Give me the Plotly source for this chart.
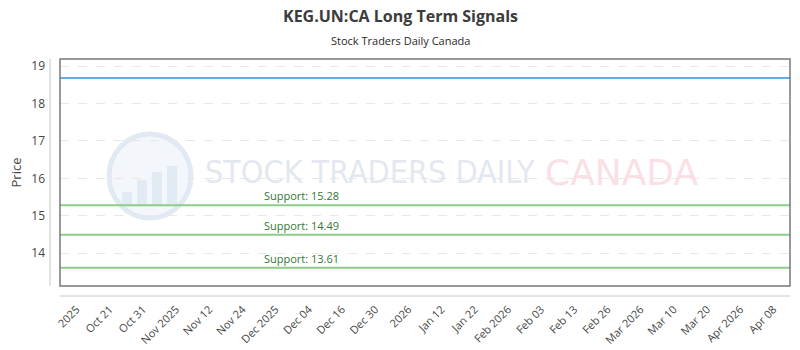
import plotly.graph_objects as go

# ---- data ----
x_labels = ["2025", "Oct 21", "Oct 31", "Nov 2025", "Nov 12", "Nov 24", "Dec 2025",
            "Dec 04", "Dec 16", "Dec 30", "2026", "Jan 12", "Jan 22", "Feb 2026",
            "Feb 03", "Feb 13", "Feb 26", "Mar 2026", "Mar 10", "Mar 20",
            "Apr 2026", "Apr 08"]
price_level = 18.68
support_levels = [15.28, 14.49, 13.61]
y_ticks = [14, 15, 16, 17, 18, 19]

PX_L, PX_R, PX_T, PX_B = 60, 790, 59, 286
W, H = PX_R - PX_L, PX_B - PX_T


def px(xp):
    return (xp - PX_L) / W


def py(yp):
    return (PX_B - yp) / H


fig = go.Figure()

# invisible trace to establish the x axis
fig.add_trace(go.Scatter(x=list(range(len(x_labels))), y=[price_level] * len(x_labels),
                         mode="lines", line=dict(color="rgba(0,0,0,0)"), hoverinfo="skip",
                         showlegend=False))

fig.add_hline(y=price_level, line=dict(color="rgb(95,175,235)", width=2))
for s in support_levels:
    fig.add_hline(y=s, line=dict(color="rgb(140,205,140)", width=2))
    fig.add_annotation(x=px(301), xref="paper", y=s, yref="y", text=f"Support: {s:.2f}",
                       showarrow=False, xanchor="center", yanchor="bottom", yshift=0,
                       font=dict(family="Open Sans", size=11, color="rgb(50,120,50)"))

# watermark
fig.add_shape(type="circle", xref="paper", yref="paper",
              x0=px(109), x1=px(191), y0=py(218), y1=py(134),
              line=dict(color="rgba(215,225,238,0.7)", width=5),
              fillcolor="rgba(232,239,247,0.5)", layer="below")
for x0, x1, ytop in [(122, 132, 192), (137, 147, 180), (152, 162, 172), (167, 177, 166)]:
    fig.add_shape(type="rect", xref="paper", yref="paper",
                  x0=px(x0), x1=px(x1), y0=py(205), y1=py(ytop),
                  line=dict(width=0), fillcolor="rgba(215,225,238,0.6)", layer="below")
fig.add_annotation(x=px(203), xref="paper", y=py(172), yref="paper",
                   text="STOCK TRADERS DAILY", showarrow=False, xanchor="left",
                   font=dict(family="DejaVu Sans Condensed", size=32, color="rgba(222,228,238,0.85)"))
fig.add_annotation(x=px(543), xref="paper", y=py(172), yref="paper",
                   text="CANADA", showarrow=False, xanchor="left",
                   font=dict(family="DejaVu Sans", size=36, color="rgba(250,218,223,0.85)"))

# frame and offset axis lines
fig.add_shape(type="rect", xref="paper", yref="paper", x0=0, x1=1, y0=0, y1=1,
              line=dict(color="rgb(120,120,120)", width=1.5))
fig.add_shape(type="line", xref="paper", yref="paper", x0=px(50), x1=px(50), y0=0, y1=1,
              line=dict(color="rgb(200,200,200)", width=1))
fig.add_shape(type="line", xref="paper", yref="paper", x0=0, x1=1, y0=py(296), y1=py(296),
              line=dict(color="rgb(200,200,200)", width=1))

# title & subtitle
fig.add_annotation(x=px(400), xref="paper", y=py(16), yref="paper", text="<b>KEG.UN:CA Long Term Signals</b>",
                   showarrow=False, xanchor="center", yanchor="middle",
                   font=dict(family="Open Sans", size=16, color="rgb(60,60,60)"))
fig.add_annotation(x=px(400), xref="paper", y=py(40), yref="paper", text="Stock Traders Daily Canada",
                   showarrow=False, xanchor="center", yanchor="middle",
                   font=dict(family="Open Sans", size=11, color="rgb(40,40,40)"))

fig.update_layout(
    width=800, height=350,
    margin=dict(l=PX_L, r=800 - PX_R, t=PX_T, b=350 - PX_B),
    paper_bgcolor="white", plot_bgcolor="white",
    showlegend=False,
    xaxis=dict(range=[-0.5, len(x_labels) - 0.5], tickmode="array",
               tickvals=list(range(len(x_labels))), ticktext=x_labels,
               tickangle=-45, showgrid=False, zeroline=False, showline=False,
               ticklabelstandoff=14, automargin=False,
               tickfont=dict(family="Open Sans", size=11, color="rgb(70,70,70)")),
    yaxis=dict(range=[13.12, 19.19], tickvals=y_ticks, showgrid=True,
               gridcolor="rgb(232,232,232)", griddash="dash", gridwidth=1,
               zeroline=False, showline=False, ticklabelstandoff=14, automargin=False,
               title=dict(text="Price", standoff=6,
                          font=dict(family="Open Sans", size=13, color="rgb(70,70,70)")),
               tickfont=dict(family="Open Sans", size=12, color="rgb(70,70,70)")),
)

fig.write_html("out.html")
